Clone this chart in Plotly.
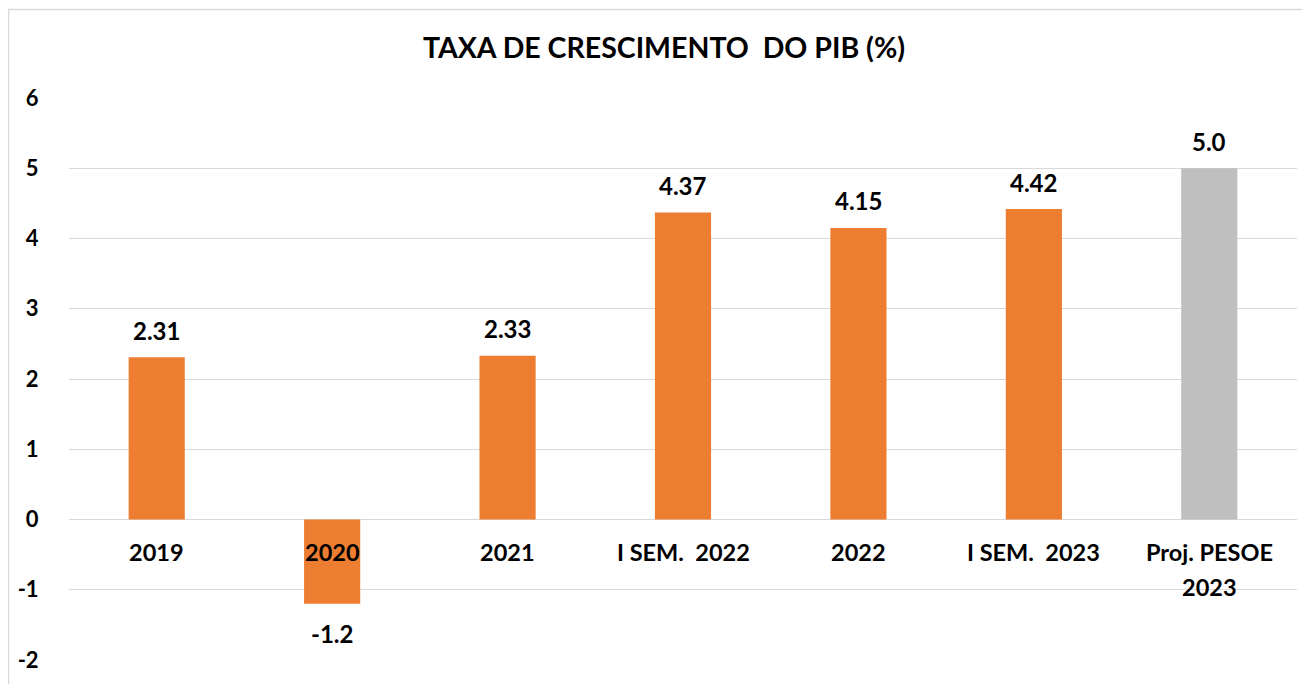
import plotly.graph_objects as go

categories = ["2019", "2020", "2021", "I SEM.  2022", "2022", "I SEM.  2023", "Proj. PESOE<br>2023"]
values = [2.31, -1.2, 2.33, 4.37, 4.15, 4.42, 5.0]
value_labels = ["2.31", "-1.2", "2.33", "4.37", "4.15", "4.42", "5.0"]
colors = ["#ED7D31"] * 6 + ["#BFBFBF"]
y_ticks = [-2, -1, 0, 1, 2, 3, 4, 5, 6]
y_tick_labels = ["-2", "-1", "0", "1", "2", "3", "4", "5", "6"]

FONT = "Lato"
OFF = 8  # page body offset
W, H = 1310 - OFF, 684 - OFF
ML, MR, MT, MB = 69 - OFF, 13, 98 - OFF, 24
PW, PH = W - ML - MR, H - MT - MB

positions = list(range(len(categories)))

fig = go.Figure()
fig.add_trace(go.Bar(
    x=positions, y=values, marker=dict(color=colors, line=dict(width=0)),
    width=0.32, hoverinfo="skip",
))

annotations = []
for i, (c, v, t) in enumerate(zip(categories, values, value_labels)):
    annotations.append(dict(
        x=i, y=v, xref="x", yref="y", text=t, showarrow=False,
        yanchor="middle", yshift=27 if v >= 0 else -30,
        font=dict(family=FONT, size=24, color="#000000", weight="bold"),
    ))
    for j, line in enumerate(c.split("<br>")):
        annotations.append(dict(
            x=i, y=0, xref="x", yref="y", text=line, showarrow=False,
            yanchor="top", yshift=-16 - 35 * j,
            font=dict(family=FONT, size=23.5, color="#000000", weight="bold"),
        ))

fig.update_layout(
    width=W, height=H,
    margin=dict(l=ML, r=MR, t=MT, b=MB, autoexpand=False),
    paper_bgcolor="white", plot_bgcolor="white",
    showlegend=False,
    title=dict(text="TAXA DE CRESCIMENTO  DO PIB (%)", x=(664 - OFF) / W, xanchor="center",
               xref="container", y=1 - (48 - OFF) / H, yanchor="middle", yref="container",
               font=dict(family=FONT, size=28.5, color="#000000", weight="bold")),
    annotations=annotations,
    shapes=[dict(type="rect", xref="paper", yref="paper",
                 x0=(0.5 - ML) / PW, x1=(W + 30 - ML) / PW,
                 y0=-0.5, y1=(H - MB - 1.5) / PH,
                 line=dict(color="#D9D9D9", width=1.5), layer="below")],
)
fig.update_xaxes(range=[-0.5, len(categories) - 0.5], showticklabels=False, showgrid=False,
                 zeroline=False, showline=False, ticks="")
fig.update_yaxes(range=[-2, 6], tickvals=y_ticks, ticktext=y_tick_labels,
                 showgrid=True, gridcolor="#D9D9D9", gridwidth=1,
                 zeroline=True, zerolinecolor="#D9D9D9", zerolinewidth=1, showline=False,
                 ticks="outside", ticklen=25, tickcolor="rgba(0,0,0,0)",
                 tickfont=dict(family=FONT, size=22, color="#000000", weight="bold"))

fig.write_html("out.html")
